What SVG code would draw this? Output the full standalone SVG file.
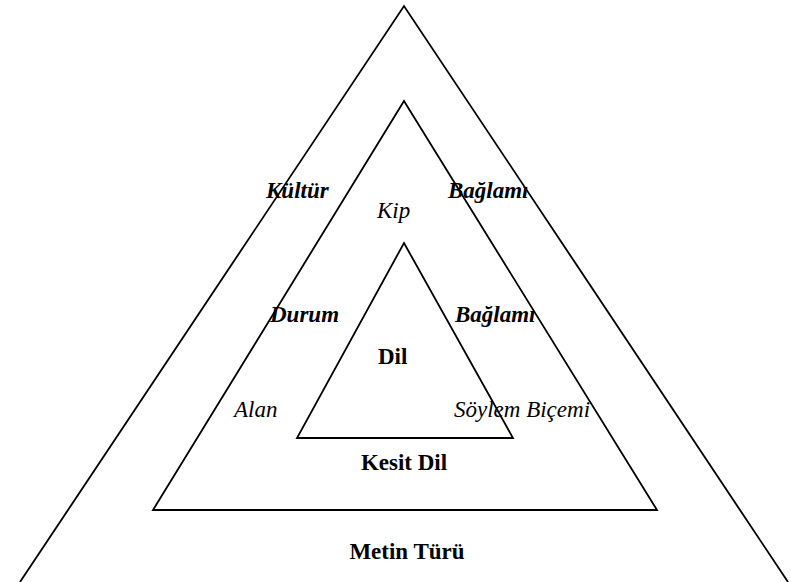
<svg xmlns="http://www.w3.org/2000/svg" width="791" height="582" viewBox="0 0 791 582">
<style>
.tri{fill:none;stroke:#000;stroke-width:1.8;stroke-linejoin:miter}
.lbl{font-family:"Liberation Serif","DejaVu Serif",serif;font-size:23px;fill:#000}
.b{font-weight:bold}
.i{font-style:italic}
.bi{font-weight:bold;font-style:italic}
</style>
<rect width="791" height="582" fill="#fff"/>
<g id="outer">
<polyline class="tri" points="20,582 404,6 788,582"/>
</g>
<g id="middle">
<polygon class="tri" points="404,101 657,510 153,510"/>
</g>
<g id="inner">
<polygon class="tri" points="404,243 513,438 297,438"/>
</g>
<g id="labels" class="lbl">
<text class="bi" x="266" y="198">Kültür</text>
<text class="bi" x="448" y="198">Bağlamı</text>
<text class="i" x="377" y="218">Kip</text>
<text class="bi" x="270" y="322">Durum</text>
<text class="bi" x="455" y="322">Bağlamı</text>
<text class="b" x="378" y="364">Dil</text>
<text class="i" x="234" y="417">Alan</text>
<text class="i" x="454" y="417">Söylem Biçemi</text>
<text class="b" x="404" y="470" text-anchor="middle">Kesit Dil</text>
<text class="b" x="407" y="559" text-anchor="middle">Metin Türü</text>
</g>
</svg>
